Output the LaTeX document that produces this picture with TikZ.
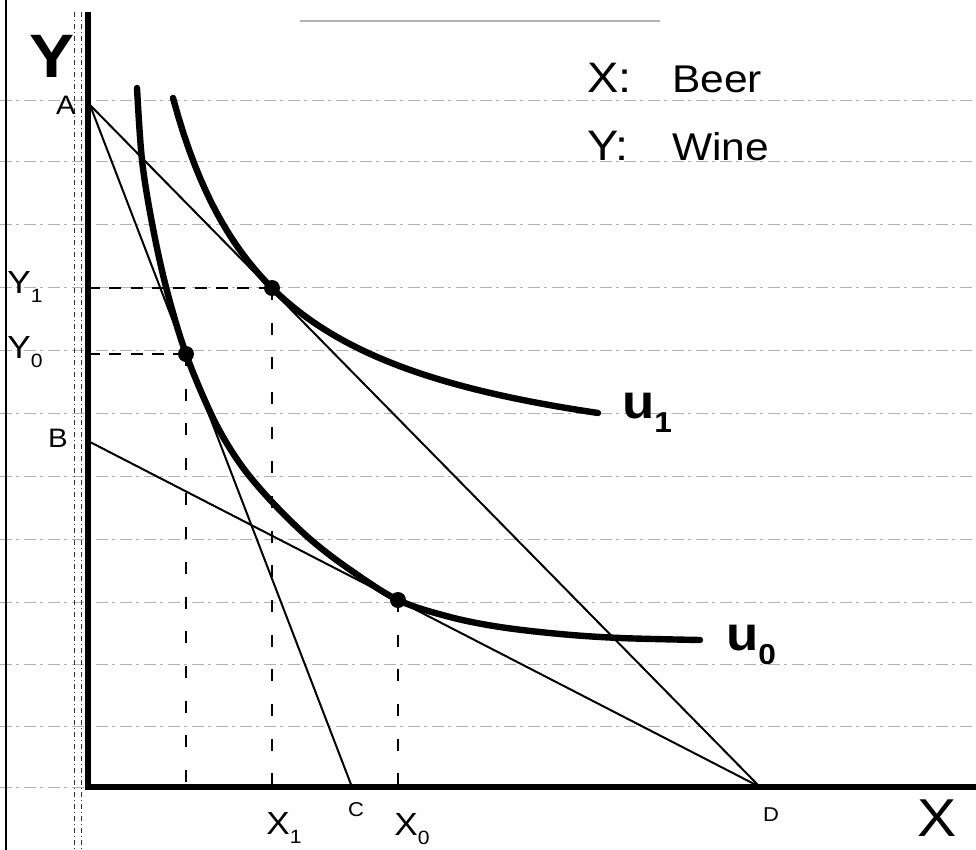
\documentclass[tikz,border=0pt]{standalone}
\usepackage{fontspec}
\usepackage{graphicx}
\newfontfamily\hand[FakeStretch=1.1]{Liberation Sans}
\newcommand{\mysub}[1]{\raisebox{-0.3em}{\scalebox{0.6}{#1}}}
\begin{document}
\begin{tikzpicture}[x=0.75pt,y=-0.75pt,
  rule/.style={gray!60, line width=0.6pt, dash pattern=on 9pt off 3pt on 2pt off 4pt},
  margin/.style={black!80, line width=0.7pt, dash pattern=on 4pt off 2pt on 1pt off 2pt},
  axis/.style={line width=4.2pt},
  budget/.style={line width=1.5pt},
  icurve/.style={line width=4.8pt, line cap=round},
  hguide/.style={line width=2.2pt, dash pattern=on 9pt off 7pt},
  vguide/.style={line width=2pt, dash pattern=on 9pt off 17pt},
  dot/.style={circle, fill=black, inner sep=0pt, minimum size=12pt},
  lab/.style={inner sep=0pt}]
\fill[white] (0,0) rectangle (976,850);
\useasboundingbox (0,0) rectangle (976,850);

% notebook paper
\foreach \yy in {100,161,224,287,350,413,476,539,602,664,726,787}
  \draw[rule] (0,\yy) -- (976,\yy);
\draw[gray!60, line width=0.8pt] (300,21) -- (660,21);
\draw[black, line width=1pt] (6,0) -- (6,850);
\draw[margin] (74,12) -- (74,850);
\draw[margin] (81,12) -- (81,850);

% axes
\coordinate (O) at (88,787);
\coordinate (Ytop) at (88,12);
\coordinate (Xend) at (976,787);
\draw[axis] (Ytop) -- (88,790);
\draw[axis] (85,787) -- (Xend);

% budget lines
\coordinate (A) at (90,105);
\coordinate (B) at (90,442);
\coordinate (C) at (352,787);
\coordinate (D) at (760,787);
\draw[budget] (A) -- (C);
\draw[budget] (A) -- (D);
\draw[budget] (B) -- (D);

% indifference curves
\draw[icurve] plot[domain=173:598, samples=80] (\x, {491.6 - 417.63/((\x-66.9)/100)});
\draw[icurve] plot[smooth, tension=0.55] coordinates {
  (137,88) (142,160) (152,223) (166,287) (186,354) (214,420) (241,465)
  (273,503) (310,539) (349,569) (398,600) (450,617) (500,627) (560,634)
  (620,638) (700,640)};

% tangency points and guides
\coordinate (T1) at (272,288);
\coordinate (T0) at (186,354);
\coordinate (T2) at (398,600);
\coordinate (Y1c) at (88,288);
\coordinate (Y0c) at (88,354);
\coordinate (X1c) at (272,798);
\coordinate (X0c) at (398,798);
\coordinate (Xac) at (186,798);
\draw[hguide] (Y1c) -- (T1);
\draw[hguide] (Y0c) -- (T0);
\draw[vguide] (T1) -- (X1c);
\draw[vguide] (T0) -- (Xac);
\draw[vguide] (T2) -- (X0c);
\node[dot] (p1) at (T1) {};
\node[dot] (p0) at (T0) {};
\node[dot] (p2) at (T2) {};

% labels
\node[lab, font=\hand\bfseries\fontsize{46}{46}\selectfont] (ylab) at (52,56) {Y};
\node[lab, font=\hand\fontsize{40}{40}\selectfont] (xlab) at (937,818) {X};
\node[lab, font=\hand\fontsize{20}{20}\selectfont] (alab) at (66,105) {A};
\node[lab, font=\hand\fontsize{20}{20}\selectfont] (blab) at (58,438) {B};
\node[lab, font=\hand\fontsize{15}{15}\selectfont] (clab) at (356,810) {C};
\node[lab, font=\hand\fontsize{15}{15}\selectfont] (dlab) at (771,815) {D};
\node[lab, font=\hand\fontsize{24}{24}\selectfont] (y1lab) at (25,287) {Y\mysub{1}};
\node[lab, font=\hand\fontsize{24}{24}\selectfont] (y0lab) at (25,352) {Y\mysub{0}};
\node[lab, font=\hand\fontsize{24}{24}\selectfont] (x1lab) at (284,828) {X\mysub{1}};
\node[lab, font=\hand\fontsize{24}{24}\selectfont] (x0lab) at (412,829) {X\mysub{0}};
\node[lab, font=\hand\bfseries\fontsize{36}{36}\selectfont] (u1lab) at (647,413) {u\mysub{1}};
\node[lab, font=\hand\bfseries\fontsize{36}{36}\selectfont] (u0lab) at (751,645) {u\mysub{0}};

% legend
\node[lab, anchor=base west, font=\hand\fontsize{32}{32}\selectfont] (lx) at (587,92) {X:};
\node[lab, anchor=base west, font=\hand\fontsize{29}{29}\selectfont] (lbeer) at (672,92) {Beer};
\node[lab, anchor=base west, font=\hand\fontsize{32}{32}\selectfont] (ly) at (587,160) {Y:};
\node[lab, anchor=base west, font=\hand\fontsize{29}{29}\selectfont] (lwine) at (672,160) {Wine};
\end{tikzpicture}
\end{document}
